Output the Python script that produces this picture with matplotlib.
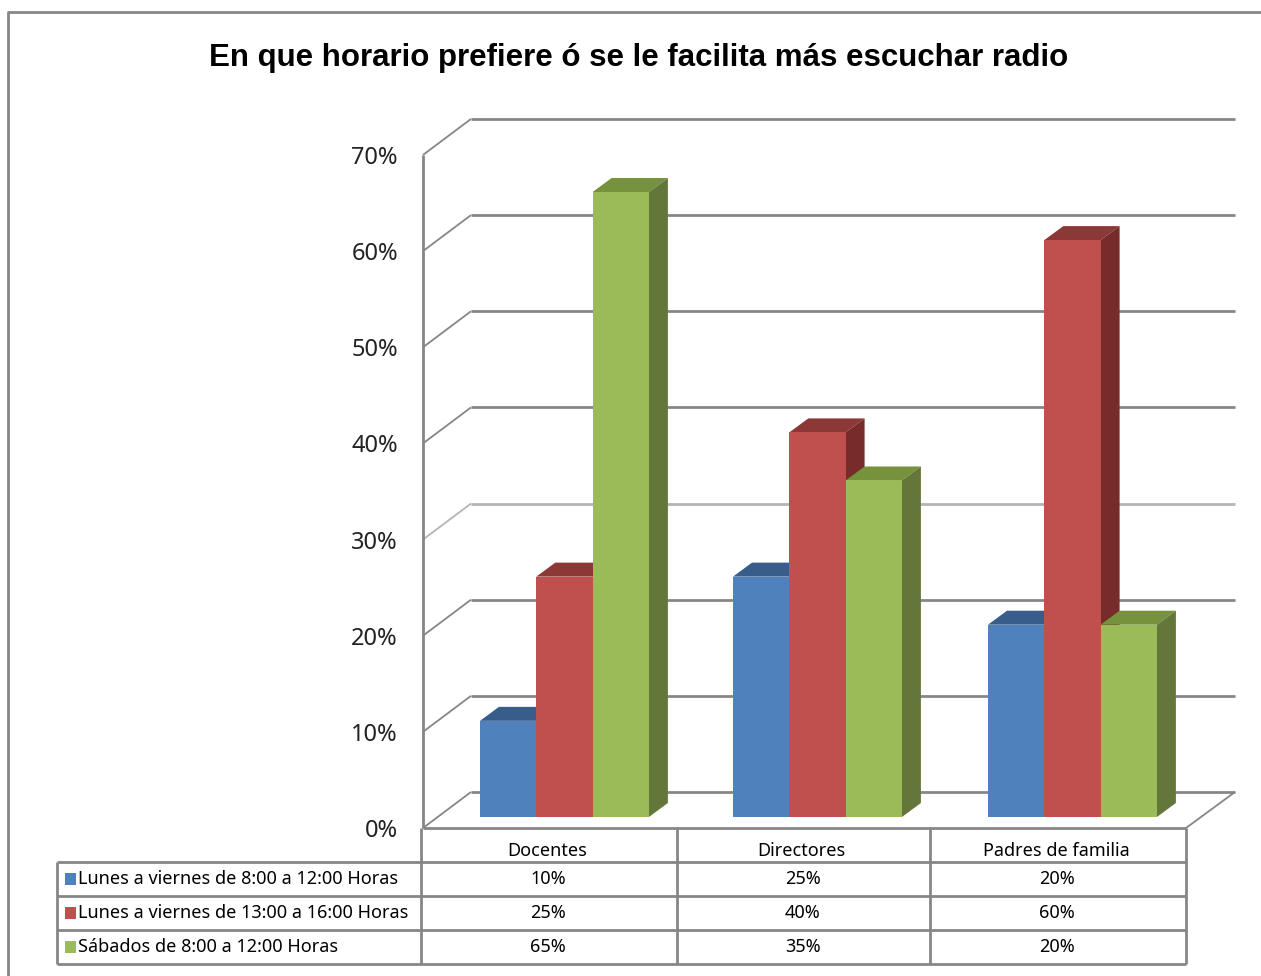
import matplotlib
matplotlib.use("Agg")
import matplotlib.pyplot as plt
from matplotlib.patches import Polygon, Rectangle

categories = ["Docentes", "Directores", "Padres de familia"]
series_names = [
    "Lunes a viernes de 8:00 a 12:00 Horas",
    "Lunes a viernes de 13:00 a 16:00 Horas",
    "Sábados de 8:00 a 12:00 Horas",
]
lunes_manana = [10, 25, 20]
lunes_tarde = [25, 40, 60]
sabados = [65, 35, 20]
y_ticks = [0, 10, 20, 30, 40, 50, 60, 70]

front_colors = ["#4f81bd", "#c0504d", "#9bbb59"]
top_colors = ["#385d8a", "#8c3836", "#76923c"]
side_colors = ["#2f4f76", "#772c2a", "#64773a"]
grid_color = "#868686"
series_values = [lunes_manana, lunes_tarde, sabados]

plt.rcParams["font.family"] = ["Noto Sans", "DejaVu Sans"]

fig = plt.figure(figsize=(12.61, 9.76), dpi=100)
ax = fig.add_axes([0, 0, 1, 1])
ax.set_xlim(0, 1261)
ax.set_ylim(976, 0)
ax.axis("off")

PX_PER_PCT = 9.615
DX, DY = 19, -14
group_left = [480, 733, 988]
BAR_W = 56.3


def wall_y(v):
    return 828 - v * PX_PER_PCT


def bar_y(v):
    return 817 - v * PX_PER_PCT


def line(xs, ys, lw=2.0, color=grid_color, z=1):
    ax.plot(xs, ys, color=color, lw=lw, solid_capstyle="butt", zorder=z)


# outer frame
line([8, 8, 1261], [976, 12, 12], lw=2.0)

# walls
for t in y_ticks:
    y = wall_y(t)
    c = "#b4b4b4" if t == 30 else grid_color
    line([423, 471], [y, y - 36], color=c, lw=1.3)
    line([471, 1235], [y - 36, y - 36], color=c)
    ax.text(398, y + 3, f"{t}%", ha="right", va="center", fontsize=17, color="#222222")
line([423, 423], [wall_y(0), wall_y(70)])
line([423, 1186], [828, 828])
line([1186, 1235], [828, 792], lw=1.3)

# bars
for g in range(len(categories)):
    for s in range(len(series_values)):
        v = series_values[s][g]
        x0 = group_left[g] + s * BAR_W
        top = bar_y(v)
        ax.add_patch(Polygon([(x0, top), (x0 + DX, top + DY), (x0 + BAR_W + DX, top + DY), (x0 + BAR_W, top)],
                             fc=top_colors[s], ec="none", zorder=3 + s))
        ax.add_patch(Polygon([(x0 + BAR_W, top), (x0 + BAR_W + DX, top + DY), (x0 + BAR_W + DX, 817 + DY), (x0 + BAR_W, 817)],
                             fc=side_colors[s], ec="none", zorder=3 + s))
        ax.add_patch(Rectangle((x0, top), BAR_W, 817 - top, fc=front_colors[s], ec="none", zorder=3 + s))

# data table
col_x = [421, 677, 930, 1186]
row_y = [828, 862, 896, 930, 964]
for x in col_x:
    line([x, x], [row_y[0], row_y[-1]], lw=2.0)
for y in row_y[1:]:
    line([57, 1186], [y, y], lw=2.0)
line([57, 57], [row_y[1], row_y[-1]], lw=2.0)

for i, c in enumerate(categories):
    ax.text((col_x[i] + col_x[i + 1]) / 2 - 2, 851, c, ha="center", va="center", fontsize=13, color="black")
for s, name in enumerate(series_names):
    yc = (row_y[s + 1] + row_y[s + 2]) / 2
    ax.add_patch(Rectangle((65, yc - 6), 11, 12, fc=front_colors[s], ec="none", zorder=3))
    ax.text(78, yc + 0.5, name, ha="left", va="center", fontsize=13, color="black")
    for i in range(len(categories)):
        ax.text((col_x[i] + col_x[i + 1]) / 2 - 1, yc + 0.5, f"{series_values[s][i]}%", ha="center", va="center",
                fontsize=13, color="black")

ax.text(639, 58, "En que horario prefiere ó se le facilita más escuchar radio", ha="center", va="center",
        fontsize=22.5, fontweight="bold", family="Liberation Sans", color="black")

fig.savefig("out.png", dpi=100, facecolor="white")
